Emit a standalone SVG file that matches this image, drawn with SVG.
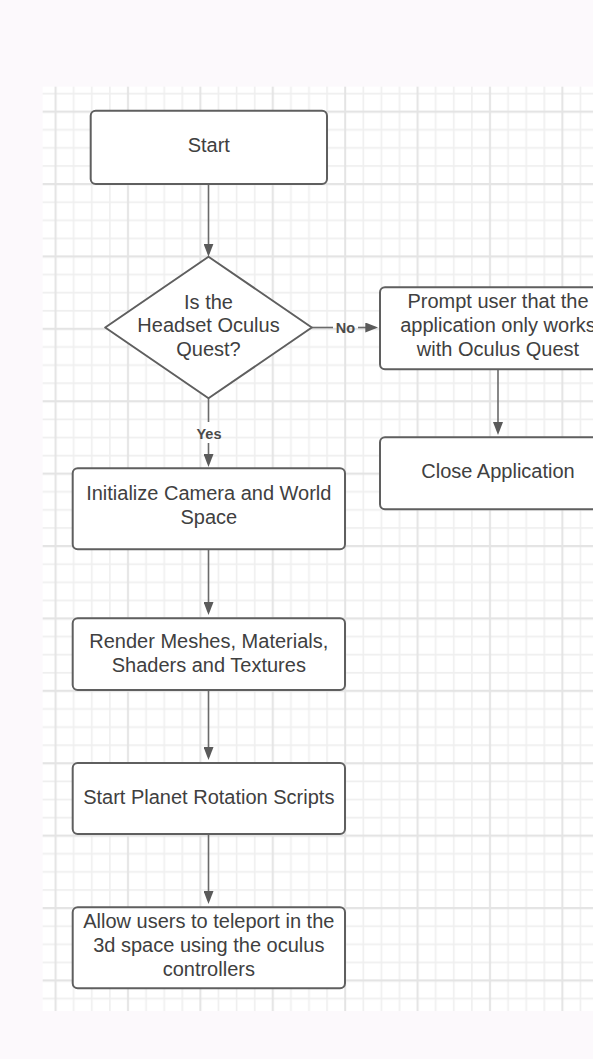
<svg xmlns="http://www.w3.org/2000/svg" width="593" height="1059" viewBox="0 0 593 1059">
<style>
.box{fill:#ffffff;stroke:#5f5f5f;stroke-width:2}
.t{font-family:"Liberation Sans",Arial,sans-serif;font-size:20px;fill:#404040;text-anchor:middle}
.lbl{font-family:"Liberation Sans",Arial,sans-serif;font-size:14.5px;font-weight:bold;fill:#4a4a4a;text-anchor:middle}
.c{stroke:#6a6a6a;stroke-width:1.6;fill:none}
.mn{stroke:#efefef;stroke-width:1.5}
.mj{stroke:#e4e4e4;stroke-width:2}
</style>
<defs>
<pattern id="grid" patternUnits="userSpaceOnUse" x="46.55" y="102.65" width="72.4" height="72.4">
<rect width="72.4" height="72.4" fill="#ffffff"/>
<path class="mn" d="M27.15,0V72.4M45.25,0V72.4M63.35,0V72.4M0,27.15H72.4M0,45.25H72.4M0,63.35H72.4"/>
<path class="mj" d="M9.05,0V72.4M0,9.05H72.4"/>
</pattern>
<marker id="ah" viewBox="0 0 13 10" refX="10" refY="5" markerWidth="13" markerHeight="10" markerUnits="userSpaceOnUse" orient="auto">
<path d="M0,0L13,5L0,10z" fill="#5a5a5a"/>
</marker>
</defs>
<rect width="593" height="1059" fill="#fcf9fc"/>
<rect x="42.7" y="86.7" width="560" height="924.3" fill="url(#grid)"/>

<g id="connectors">
<path class="c" d="M208.5,184V253.7" marker-end="url(#ah)"/>
<path class="c" d="M208.5,398.3V422"/>
<path class="c" d="M208.5,443V464" marker-end="url(#ah)"/>
<text class="lbl" x="209" y="438.5">Yes</text>
<path class="c" d="M311.8,327.5H333"/>
<path class="c" d="M358,327.5H375.3" marker-end="url(#ah)"/>
<text class="lbl" x="345.5" y="332.5">No</text>
<path class="c" d="M498,369.3V432" marker-end="url(#ah)"/>
<path class="c" d="M208.5,549.3V612" marker-end="url(#ah)"/>
<path class="c" d="M208.5,690V757" marker-end="url(#ah)"/>
<path class="c" d="M208.5,834V901" marker-end="url(#ah)"/>
</g>

<g id="start">
<rect class="box" x="90.7" y="110.7" width="236.3" height="73.3" rx="5"/>
<text class="t" x="208.8" y="151.5">Start</text>
</g>

<g id="decision">
<path class="box" d="M208.5,256.7L311.8,327.5L208.5,398.3L105.2,327.5Z" stroke-linejoin="round"/>
<text class="t" x="208.5" y="308.5">Is the</text>
<text class="t" x="208.5" y="332">Headset Oculus</text>
<text class="t" x="208.5" y="355.5">Quest?</text>
</g>

<g id="prompt">
<rect class="box" x="380" y="287.3" width="236" height="82" rx="5"/>
<text class="t" x="498" y="308.3">Prompt user that the</text>
<text class="t" x="498" y="332">application only works</text>
<text class="t" x="498" y="355.7">with Oculus Quest</text>
</g>

<g id="close">
<rect class="box" x="380" y="437.3" width="236" height="72" rx="5"/>
<text class="t" x="498" y="478.3">Close Application</text>
</g>

<g id="init">
<rect class="box" x="72.7" y="468.3" width="272.3" height="81" rx="5"/>
<text class="t" x="208.8" y="500">Initialize Camera and World</text>
<text class="t" x="208.8" y="523.5">Space</text>
</g>

<g id="render">
<rect class="box" x="72.7" y="618.3" width="272.3" height="71.7" rx="5"/>
<text class="t" x="208.8" y="648.3">Render Meshes, Materials,</text>
<text class="t" x="208.8" y="671.7">Shaders and Textures</text>
</g>

<g id="rotation">
<rect class="box" x="72.7" y="763" width="272.3" height="71" rx="5"/>
<text class="t" x="208.8" y="804">Start Planet Rotation Scripts</text>
</g>

<g id="teleport">
<rect class="box" x="72.7" y="907.3" width="272.3" height="81" rx="5"/>
<text class="t" x="208.8" y="927.7">Allow users to teleport in the</text>
<text class="t" x="208.8" y="951.6">3d space using the oculus</text>
<text class="t" x="208.8" y="975.5">controllers</text>
</g>
</svg>
